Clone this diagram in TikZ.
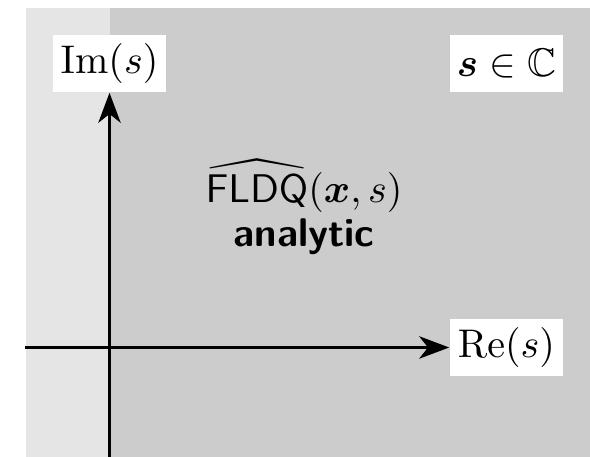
\documentclass[tikz,border=0pt]{standalone}
\usepackage{amsmath,amssymb,bm}
\usetikzlibrary{arrows.meta}
\begin{document}
\begin{tikzpicture}[x=0.25pt,y=-0.25pt,
  lbl/.style={fill=white,minimum width=28.25pt,minimum height=14.25pt,inner sep=0pt},
  axis/.style={line width=0.7pt,-{Stealth[length=7.5pt,width=5.6pt,inset=2.2pt]}}]
\useasboundingbox (0,0) rectangle (590,457);
\fill[gray!20] (26,8) rectangle (110,457);
\fill[gray!40] (110,8) rectangle (590,457);
\node[lbl] (im) at (109.5,63.5) {$\mathrm{Im}(s)$};
\node[lbl] (sc) at (506.5,63.5) {$\bm{s}\in\mathbb{C}$};
\node[lbl] (re) at (506.5,347.5) {$\mathrm{Re}(s)$};
\coordinate (vb) at (109.5,457);
\coordinate (hl) at (25,347.5);
\draw[axis] (vb) -- (im.south);
\draw[axis] (hl) -- (re.west);
\node[align=center,inner sep=0pt] (f) at (304,207) {$\widehat{\mathsf{FLDQ}}(\bm{x},s)$\\[-1pt]\textsf{\textbf{analytic}}};
\end{tikzpicture}
\end{document}
